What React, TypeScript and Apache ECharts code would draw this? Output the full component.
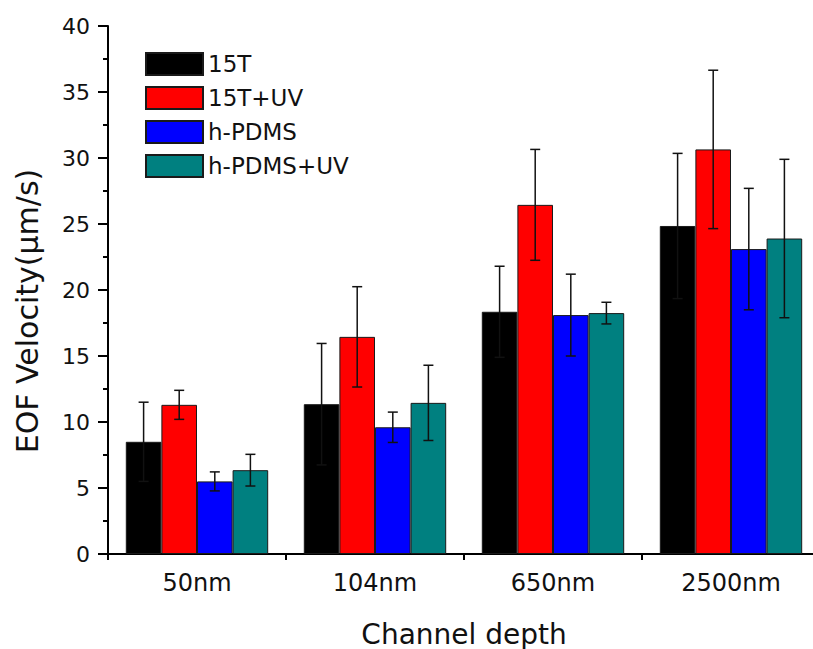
import React, { useEffect, useRef } from "react";
import * as echarts from "echarts";

const categories = ["50nm", "104nm", "650nm", "2500nm"];
const seriesNames = ["15T", "15T+UV", "h-PDMS", "h-PDMS+UV"];
const v15T = [8.5, 11.35, 18.35, 24.85];
const e15T = [3.0, 4.6, 3.45, 5.5];
const v15TUV = [11.3, 16.45, 26.45, 30.65];
const e15TUV = [1.1, 3.8, 4.2, 6.0];
const vPDMS = [5.5, 9.6, 18.1, 23.1];
const ePDMS = [0.72, 1.15, 3.1, 4.6];
const vPDMSUV = [6.35, 11.45, 18.25, 23.9];
const ePDMSUV = [1.2, 2.85, 0.82, 6.0];
const yTicks = { min: 0, max: 40, interval: 5 };

const colors = ["#000000", "#ff0000", "#0000ff", "#008080"];
const FONT = "DejaVu Sans";

export default function App() {
  const ref = useRef<HTMLDivElement>(null);
  useEffect(() => {
    document.documentElement.style.overflow = "hidden";
    document.body.style.margin = "0";
    document.body.style.overflow = "hidden";
    if (!ref.current) return;
    const chart = echarts.init(ref.current, undefined, { renderer: "svg" });
    const values = [v15T, v15TUV, vPDMS, vPDMSUV];
    const errors = [e15T, e15TUV, ePDMS, ePDMSUV];
    const nSeries = values.length;
    const catGap = 0.2;

    const barSeries = values.map((vals, i) => ({
      type: "bar",
      name: seriesNames[i],
      data: vals,
      barGap: "0%",
      barCategoryGap: "20%",
      itemStyle: { color: colors[i], borderColor: "#1a1a1a", borderWidth: 1 },
      xAxisIndex: 0,
      yAxisIndex: 0,
      z: 2,
    }));

    const errSeries = values.map((vals, i) => ({
      type: "custom",
      name: seriesNames[i] + "_err",
      xAxisIndex: 0,
      yAxisIndex: 0,
      z: 10,
      encode: { x: 0, y: [1, 2] },
      data: vals.map((v, j) => [j, v - errors[i][j], v + errors[i][j]]),
      renderItem: (params: any, api: any) => {
        const cat = api.value(0);
        const lo = api.coord([cat, api.value(1)]);
        const hi = api.coord([cat, api.value(2)]);
        const band = api.size([1, 0])[0];
        const barW = (band * (1 - catGap)) / nSeries;
        const x = lo[0] + (i - (nSeries - 1) / 2) * barW;
        const cap = 5;
        const style = { stroke: "#111", lineWidth: 1.5 };
        return {
          type: "group",
          children: [
            { type: "line", shape: { x1: x, y1: lo[1], x2: x, y2: hi[1] }, style },
            { type: "line", shape: { x1: x - cap, y1: hi[1], x2: x + cap, y2: hi[1] }, style },
            { type: "line", shape: { x1: x - cap, y1: lo[1], x2: x + cap, y2: lo[1] }, style },
          ],
        };
      },
    }));

    chart.setOption({
      animation: false,
      backgroundColor: "#ffffff",
      grid: { left: 108, top: 26, width: 712, height: 528, outerBoundsMode: "none", containLabel: false },
      legend: {
        data: seriesNames,
        orient: "vertical",
        left: 145,
        top: 52,
        padding: 0,
        icon: "rect",
        itemWidth: 57,
        itemHeight: 22,
        itemGap: 10,
        textStyle: { fontFamily: FONT, fontSize: 23, color: "#111", lineHeight: 22 },
      },
      xAxis: [
        {
          type: "category",
          data: categories,
          name: "Channel depth",
          nameLocation: "middle",
          nameGap: 66,
          nameTextStyle: { fontFamily: FONT, fontSize: 28, color: "#111" },
          axisLine: { lineStyle: { color: "#000", width: 2 } },
          axisTick: { alignWithLabel: true, length: 11, lineStyle: { width: 2, color: "#000" } },
          axisLabel: { fontFamily: FONT, fontSize: 24, color: "#111", margin: 17 },
        },
        {
          type: "category",
          data: categories,
          position: "bottom",
          axisLine: { show: false },
          axisTick: { show: true, length: 6, lineStyle: { width: 2, color: "#000" } },
          axisLabel: { show: false },
        },
      ],
      yAxis: {
        type: "value",
        min: yTicks.min,
        max: yTicks.max,
        interval: yTicks.interval,
        splitLine: { show: false },
        axisLine: { show: true, lineStyle: { color: "#000", width: 2 } },
        axisTick: { show: true, length: 10, lineStyle: { width: 2, color: "#000" } },
        minorTick: { show: true, splitNumber: 2, length: 5, lineStyle: { width: 2, color: "#000" } },
        axisLabel: { fontFamily: FONT, fontSize: 22, color: "#111", margin: 18 },
      },
      graphic: [
        {
          type: "text",
          x: 27,
          y: 311,
          rotation: Math.PI / 2,
          style: {
            text: "EOF Velocity(\u03bcm/s)",
            fontFamily: FONT,
            fontSize: 30,
            fill: "#111",
            textAlign: "center",
            textVerticalAlign: "middle",
            align: "center",
            verticalAlign: "middle",
          },
        },
      ],
      series: [...barSeries, ...errSeries],
    });
    return () => chart.dispose();
  }, []);
  return (
    <div style={{ position: "fixed", left: 0, top: 0, width: 813, height: 649, overflow: "hidden", background: "#fff" }}>
      <div ref={ref} style={{ position: "absolute", left: 0, top: 0, width: 813, height: 649 }} />
    </div>
  );
}
